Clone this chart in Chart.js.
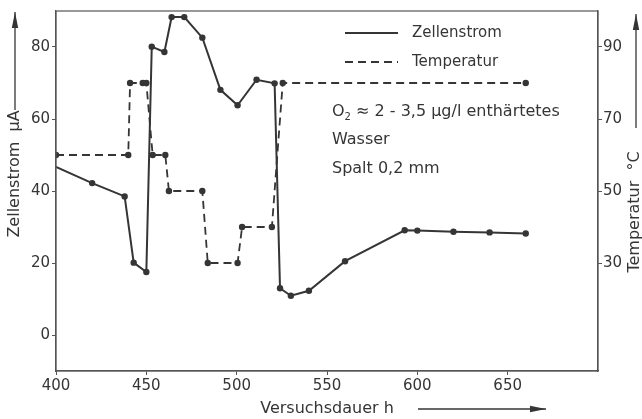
<!DOCTYPE html>
<html>
<head>
<meta charset="utf-8">
<script src="https://cdn.jsdelivr.net/npm/chart.js@4"></script>
<style>
 html,body{margin:0;padding:0;background:#fff}
 #wrap{width:642px;height:419px}
</style>
</head>
<body>
<div id="wrap"><canvas id="chart" width="642" height="419"></canvas></div>
<script>
// Versuchsdauer (h) und Zellenstrom (µA)
const stromHours=[400,420,438,443,450,453,460,464,471,481,491,500.5,511,521,524,530,540,560,593,600,620,640,660];
const stromValues=[46.7,42.2,38.5,20.1,17.5,80.1,78.6,88.3,88.3,82.6,68.1,63.8,70.9,69.9,13,10.9,12.3,20.5,29.1,29,28.7,28.5,28.2];
// Temperatur (°C)
const tempHours=[400,440,441,448,450,453.5,460.5,462.5,481,484,500.5,503,519.5,525.5,660];
const tempValues=[60,60,80,80,80,60,60,50,50,30,30,40,40,80,80];
const xTicks=[400,450,500,550,600,650];
const yTicks=[0,20,40,60,80];
const y2Ticks=[30,50,70,90];

const ink="#353535";
const FONT="'DejaVu Sans', sans-serif";

function pts(xs,ys){return xs.map((x,i)=>({x:x,y:ys[i]}))}

function arrow(ctx,x1,y1,x2,y2){
 ctx.beginPath();ctx.moveTo(x1,y1);ctx.lineTo(x2,y2);ctx.stroke();
 let a=Math.atan2(y2-y1,x2-x1),L=16,W=3.2;
 ctx.beginPath();
 ctx.moveTo(x2,y2);
 ctx.lineTo(x2-L*Math.cos(a)+W*Math.sin(a),y2-L*Math.sin(a)-W*Math.cos(a));
 ctx.lineTo(x2-L*Math.cos(a)-W*Math.sin(a),y2-L*Math.sin(a)+W*Math.cos(a));
 ctx.closePath();ctx.fill();
}

const deko={
 id:"deko",
 afterDraw(c){
  let ctx=c.ctx,a=c.chartArea;
  ctx.save();
  ctx.strokeStyle="#555";ctx.lineWidth=1.2;
  ctx.strokeRect(a.left,a.top,a.right-a.left,a.bottom-a.top);
  ctx.fillStyle=ink;ctx.strokeStyle=ink;
  ctx.font="15px "+FONT;ctx.textBaseline="middle";ctx.textAlign="left";
  // Legende
  ctx.lineWidth=2;ctx.beginPath();ctx.moveTo(345,33);ctx.lineTo(398,33);ctx.stroke();
  ctx.setLineDash([8,5]);ctx.beginPath();ctx.moveTo(345,62);ctx.lineTo(398,62);ctx.stroke();
  ctx.setLineDash([]);
  ctx.fillText("Zellenstrom",412,33);
  ctx.fillText("Temperatur",412,62);
  // Bedingungen
  ctx.font="16px "+FONT;
  ctx.fillText("O",332,112);
  let w=ctx.measureText("O").width;
  ctx.font="10px "+FONT;ctx.fillText("2",332+w,117);
  let w2=ctx.measureText("2").width;
  ctx.font="16px "+FONT;
  ctx.fillText(" ≈ 2 - 3,5 µg/l enthärtetes",332+w+w2,112);
  ctx.fillText("Wasser",332,140);
  ctx.fillText("Spalt 0,2 mm",332,169);
  // Achsentitel
  ctx.font="16px "+FONT;ctx.lineWidth=1.3;
  ctx.textAlign="center";
  ctx.fillText("Versuchsdauer h",327,409);
  arrow(ctx,418,409,546,409);
  ctx.save();ctx.translate(15,174);ctx.rotate(-Math.PI/2);
  ctx.fillText("Zellenstrom  µA",0,0);ctx.restore();
  arrow(ctx,15,110,15,12);
  ctx.save();ctx.translate(635,212);ctx.rotate(-Math.PI/2);
  ctx.fillText("Temperatur  °C",0,0);ctx.restore();
  arrow(ctx,636,128,636,14);
  ctx.restore();
 }
};

new Chart(document.getElementById("chart"),{
 type:"line",
 data:{datasets:[
  {label:"Zellenstrom",data:pts(stromHours,stromValues),yAxisID:"y",
   borderColor:ink,backgroundColor:ink,borderWidth:2,tension:0,
   pointRadius:ctx=>ctx.dataIndex==0?0:3.2,pointBackgroundColor:ink,pointBorderWidth:0},
  {label:"Temperatur",data:pts(tempHours,tempValues),yAxisID:"y2",
   borderColor:ink,backgroundColor:ink,borderWidth:1.8,borderDash:[8,5],tension:0,
   pointRadius:3.2,pointBackgroundColor:ink,pointBorderWidth:0}
 ]},
 options:{
  responsive:false,animation:false,
  layout:{padding:{top:10,left:0,right:0,bottom:0}},
  plugins:{legend:{display:false},tooltip:{enabled:false}},
  scales:{
   x:{type:"linear",min:400,max:700,
    afterBuildTicks:s=>{s.ticks=xTicks.map(v=>({value:v}))},
    afterFit:s=>{s.height=48},
    grid:{drawOnChartArea:false,tickLength:4,color:"#555"},
    border:{color:"#555",width:1.2},
    ticks:{color:ink,font:{family:FONT,size:15},padding:2,maxRotation:0}},
   y:{position:"left",min:-10,max:90,
    afterBuildTicks:s=>{s.ticks=yTicks.map(v=>({value:v}))},
    afterFit:s=>{s.width=56},
    grid:{drawOnChartArea:false,tickLength:4,color:"#555"},
    border:{color:"#555",width:1.2},
    ticks:{color:ink,font:{family:FONT,size:15},padding:2}},
   y2:{position:"right",min:0,max:100,
    afterBuildTicks:s=>{s.ticks=y2Ticks.map(v=>({value:v}))},
    afterFit:s=>{s.width=44},
    grid:{drawOnChartArea:false,tickLength:4,color:"#555"},
    border:{color:"#555",width:1.2},
    ticks:{color:ink,font:{family:FONT,size:15},padding:1}}
  }
 },
 plugins:[deko]
});
</script>
</body>
</html>
